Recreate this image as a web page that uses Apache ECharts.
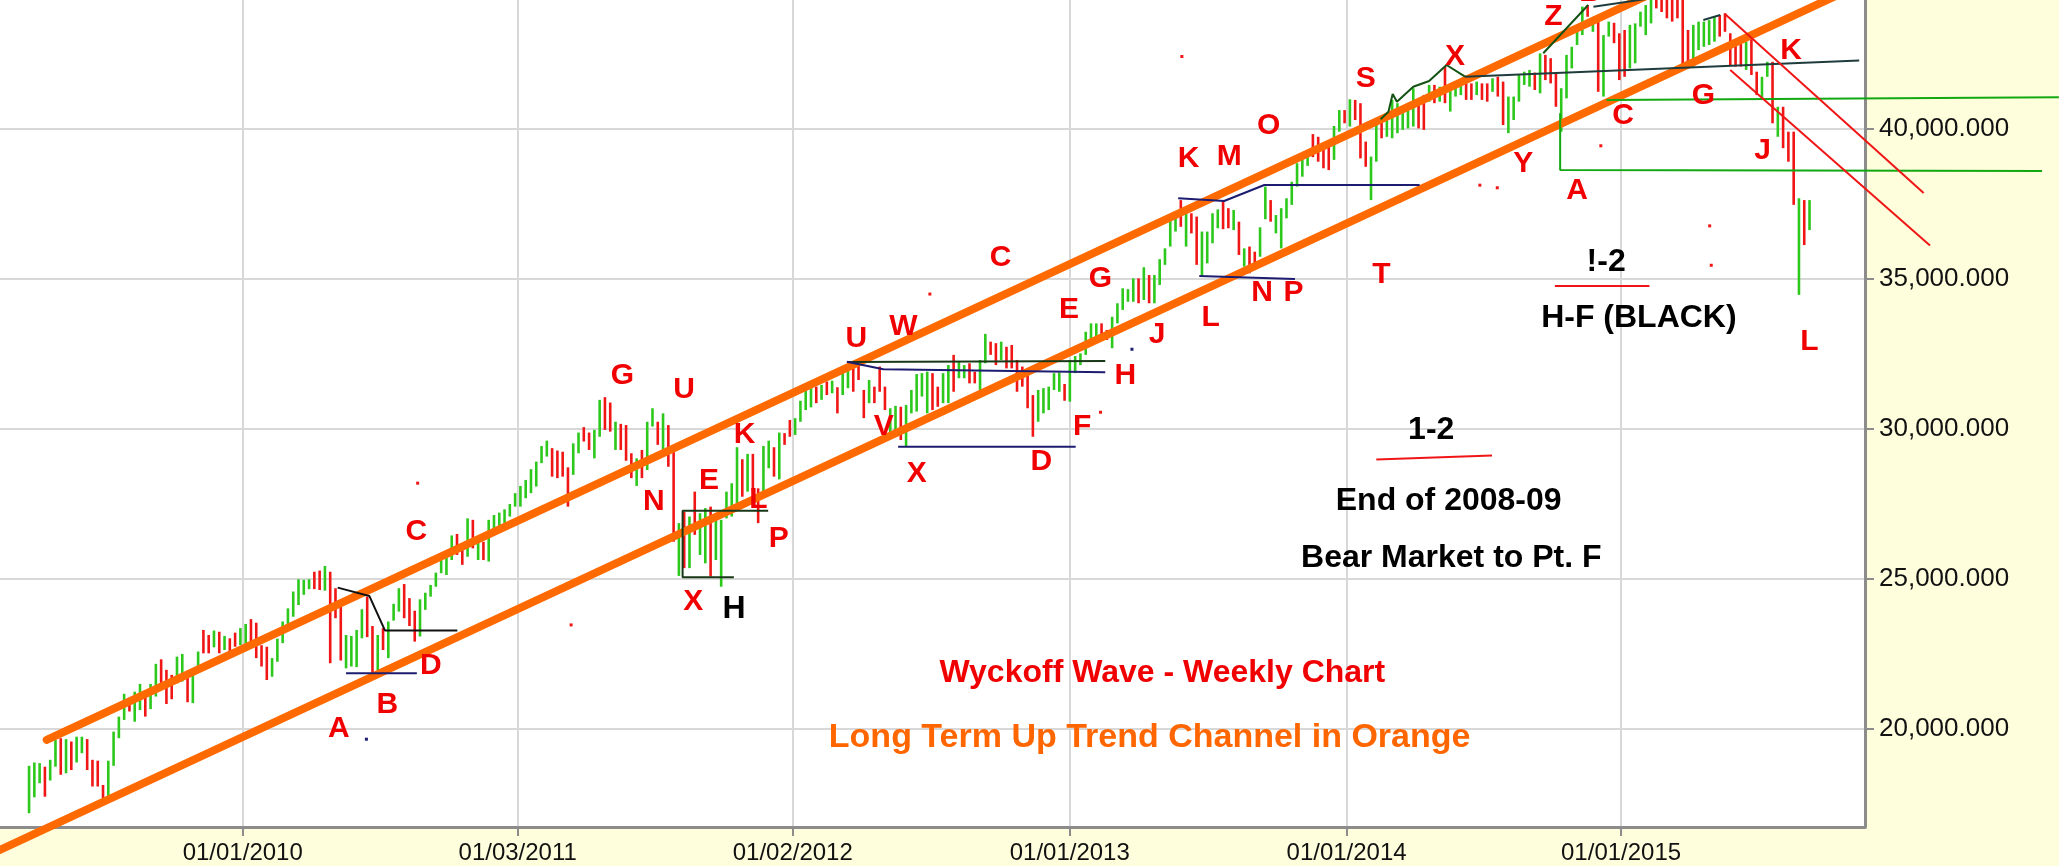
<!DOCTYPE html>
<html>
<head>
<meta charset="utf-8">
<title>Wyckoff Wave - Weekly Chart</title>
<script src="https://cdn.jsdelivr.net/npm/echarts@6/dist/echarts.min.js"></script>
<style>
  html, body { margin: 0; padding: 0; background: #fefedd; }
  #chart { width: 2059px; height: 866px; }
</style>
</head>
<body>
<div id="chart"></div>
<script>
// weekly high/low bars, x = week slot on the time axis (one slot per week)
const firstWeek = 5;
const weekHigh = [
  18770, 18880, 18860, 18740, 18970, 19630, 19690, 19660, 19580, 19740,
  19740, 19660, 18970, 18940, 18130, 18940, 19910, 20410, 21170, 20970,
  21240, 21500, 21190, 21500, 22170, 22320, 21970, 21800, 22410, 22500,
  21910, 21860, 22580, 23300, 23130, 23280, 23240, 23100, 23020, 23210,
  23360, 23500, 23660, 23540, 22790, 22740, 22360, 23010, 23580, 24020,
  24580, 24990, 24970, 24990, 25240, 25280, 25430, 25240, 24690, 24080,
  23130, 23100, 23300, 23990, 24410, 23430, 23130, 23360, 23580, 24170,
  24690, 24830, 24360, 23940, 24320, 24540, 24800, 25210, 25630, 25860,
  26450, 26500, 26080, 27020, 26970, 26360, 26240, 26970, 27130, 27210,
  27320, 27500, 27860, 28100, 28300, 28660, 28910, 29430, 29610, 29360,
  29280, 29240, 28720, 29520, 29880, 30060, 29880, 29970, 30970, 31060,
  30880, 30240, 30170, 30130, 29190, 29020, 29300, 30240, 30690, 30240,
  30520, 30130, 29360, 26860, 27240, 27080, 27910, 27190, 27360, 27410,
  27080, 26970, 27910, 28190, 29390, 28990, 29170, 29170, 28020, 29430,
  29610, 29390, 29880, 29860, 30300, 30360, 30940, 31320, 31500, 31410,
  31470, 31580, 31610, 31390, 31880, 32130, 32190, 32300, 31300, 31630,
  31410, 32080, 31410, 30690, 30770, 30740, 30800, 31300, 31830, 31860,
  31910, 31860, 31410, 31860, 32130, 32470, 32240, 32130, 32190, 31910,
  32300, 33170, 32910, 32860, 32910, 32740, 32800, 32300, 32080, 31860,
  31130, 31300, 31360, 31410, 31860, 31880, 31500, 32300, 32430, 32520,
  33240, 33520, 33520, 33520, 33300, 33740, 34190, 34690, 34660, 35020,
  35020, 35390, 35130, 35130, 35660, 36020, 36970, 37130, 37630, 37210,
  37190, 37080, 36580, 36580, 37190, 37320, 37580, 37360, 37300, 36910,
  36020, 36080, 35910, 36720, 38080, 37630, 37130, 37360, 37690, 38240,
  38860, 39020, 39300, 39830, 39740, 39470, 39410, 40100, 40630, 40630,
  40990, 40970, 40860, 39580, 39080, 40190, 40360, 40520, 40970, 40860,
  40740, 40630, 41360, 40970, 41130, 41470, 41470, 41410, 42080, 41360,
  41470, 41630, 41580, 41520, 41580, 41520, 41520, 41690, 41740, 41580,
  41080, 41080, 41800, 41910, 41970, 41880, 42520, 42470, 42360, 41860,
  41360, 42470, 42740, 43300, 44080, 44130, 43630, 43580, 43130, 43580,
  43540, 43190, 43300, 43470, 43520, 43910, 44130, 44300, 44500, 44600,
  44500, 44400, 44500, 44400, 43300, 43470, 43580, 43580, 43630, 43740,
  43800, 43860, 43190, 42860, 43080, 42910, 43080, 41910, 41740, 42240,
  42240, 40740, 40740, 39910, 39910, 37690, 37630, 37630
];
const weekLow = [
  17190, 17720, 18190, 17740, 18280, 18740, 18470, 18520, 18630, 18880,
  19190, 18630, 18080, 18080, 17690, 17740, 18770, 19690, 20300, 20580,
  20240, 20630, 20410, 20660, 21080, 21410, 20830, 20990, 21520, 21580,
  20890, 20860, 22100, 22520, 22520, 22720, 22520, 22630, 22580, 22740,
  22790, 22830, 22740, 22360, 22080, 21630, 21740, 22240, 22860, 23300,
  23740, 24130, 24470, 24660, 24660, 24630, 24610, 22190, 23690, 22280,
  22020, 22080, 22060, 23020, 23060, 21860, 21940, 22630, 22360, 23610,
  23910, 23690, 23430, 22910, 23080, 23970, 24410, 24740, 25190, 25130,
  25630, 25800, 25470, 25740, 26020, 25630, 25630, 25580, 26520, 26690,
  26860, 27080, 27410, 27410, 27690, 27860, 28080, 28860, 29080, 28410,
  28360, 28410, 27410, 28470, 29190, 29580, 29300, 29020, 29740, 29970,
  29910, 29300, 29300, 28940, 28360, 28100, 28360, 28630, 30080, 29470,
  29080, 28740, 26240, 25100, 25360, 25360, 26470, 25800, 25520, 25080,
  25630, 24740, 27020, 27080, 27300, 27740, 27910, 27910, 26860, 27860,
  28690, 28410, 28320, 29470, 29740, 29800, 30240, 30630, 30720, 30860,
  30970, 31130, 31190, 30520, 31130, 31360, 31240, 31630, 30360, 30860,
  30860, 31240, 30630, 29740, 29740, 29630, 29410, 30520, 30580, 31080,
  30520, 30630, 30740, 30860, 30860, 31240, 31690, 31690, 31520, 31520,
  31300, 32190, 32470, 32130, 32300, 32020, 32020, 31240, 31410, 30690,
  29740, 30240, 30520, 30630, 31300, 31240, 30940, 30910, 31860, 32130,
  32470, 32860, 33020, 32970, 32970, 32690, 33520, 33970, 34240, 34240,
  34190, 34300, 34190, 34190, 34800, 35470, 36080, 36580, 36740, 36080,
  36520, 35470, 35130, 35520, 36190, 36690, 36660, 36690, 36630, 35800,
  35410, 35190, 35320, 35740, 36990, 36910, 36520, 36020, 37020, 37470,
  38080, 38410, 38770, 39060, 38910, 38690, 38630, 38970, 39910, 40190,
  40080, 40300, 39020, 38740, 37630, 38910, 39690, 39740, 39690, 39860,
  39970, 40020, 40080, 40020, 39970, 40910, 40860, 40910, 40860, 40580,
  41080, 41130, 40970, 40970, 41130, 40970, 40910, 41240, 41080, 40130,
  39860, 40300, 40910, 41470, 41410, 41300, 41190, 41630, 41520, 40740,
  39910, 41020, 42020, 42800, 43130, 43740, 43240, 41240, 41080, 43080,
  42860, 41630, 41740, 42020, 42190, 43410, 43130, 43520, 44020, 43900,
  43690, 43580, 43690, 42020, 42020, 42080, 42630, 42740, 42800, 42910,
  43080, 43240, 42130, 42080, 42080, 41970, 41800, 41130, 40970, 41740,
  40190, 39740, 39360, 38910, 37470, 34470, 36130, 36630
];
// 1 = up week (green), 0 = down week (red)
const weekUp = [
  1,1,1,0,1,1,0,1,0,1, 1,0,0,0,0,1,1,1,1,0, 1,1,0,1,1,0,0,0,1,1,
  0,1,1,0,0,1,0,1,0,0, 1,1,0,0,0,0,1,1,1,1, 1,1,1,1,0,0,1,0,0,0,
  1,1,1,1,0,0,1,0,1,1, 1,0,0,0,1,1,1,1,1,1, 1,0,0,1,0,1,0,1,1,1,
  1,1,1,1,1,1,1,1,1,0, 0,0,0,1,1,0,0,1,1,0, 0,1,0,0,0,1,0,1,1,0,
  1,0,0,1,0,1,0,1,1,0, 1,1,1,1,1,0,1,0,0,1, 1,0,1,0,0,1,1,1,1,0,
  1,0,1,0,1,1,0,0,0,1, 0,0,0,1,1,0,1,1,1,1, 1,0,0,1,1,0,1,1,0,0,
  1,1,0,0,1,0,0,0,0,0, 0,1,1,1,1,1,0,1,1,1, 1,1,1,0,0,1,1,1,1,1,
  0,1,0,1,1,1,1,1,0,1, 0,0,1,1,1,1,0,0,1,0, 1,0,0,1,1,0,1,1,1,1,
  1,1,1,0,0,0,0,1,1,0, 1,0,0,0,1,1,0,1,1,1, 1,1,1,0,0,1,0,1,0,1,
  1,1,0,0,1,0,0,1,0,0, 1,1,1,1,1,0,1,0,0,0, 1,1,1,1,1,0,1,0,1,1,
  0,0,0,1,1,1,1,1,0,0, 0,0,0,0,0,1,1,1,1,1, 0,0,0,0,0,1,0,0,1,1,
  0,1,0,0,0,1,0,1
];

// time axis
const xTickPos = [45.44, 97.49, 149.55, 201.98, 254.38, 306.33];
const xTickText = ['01/01/2010', '01/03/2011', '01/02/2012', '01/01/2013', '01/01/2014', '01/01/2015'];
const yTicks = [20000, 25000, 30000, 35000, 40000];
const yMin = 16730;
const yMax = 44300;
const weekSlots = 353;

// long term up trend channel
const channelUpper = [[8.34, 19633], [325.1, 45580]];
const channelLower = [[-7.0, 15433], [359.1, 45430]];

// drawn pattern lines
const blackBD = [[63.42, 24710], [69.40, 24433], [72.38, 23277], [86.06, 23277]];
const navyAB = [[65.0, 21857], [78.4, 21857]];
const boxXH = [[144.9, 27277], [128.7, 27277], [128.7, 25057], [138.4, 25057]];
const darkUH = [[159.8, 32233], [208.7, 32267]];
const navyUH = [[159.8, 32243], [166.7, 31990], [208.7, 31890]];
const navyXD = [[169.5, 29410], [203.1, 29410]];
const navyKM = [[222.5, 37690], [231.2, 37600], [238.8, 38133], [268.2, 38133]];
const navyLP = [[226.5, 35100], [244.6, 35000]];
const darkSX = [[260.8, 40323], [262.3, 40577], [263.1, 41167], [263.9, 40910], [267.0, 41410],
                [270.0, 41600], [273.3, 42133], [276.8, 41743]];
const tealX = [[276.8, 41743], [351.4, 42283]];
const darkZ = [[291.6, 42523], [300.1, 44133]];
const darkZB = [[301.1, 44077], [311.0, 44330]];
const darkG = [[321.9, 43633], [325.1, 43800]];
const greenA = [[294.8, 40523], [294.8, 38633], [386.0, 38600]];
const greenC = [[303.6, 40967], [389.2, 41060]];
const redK1 = [[326.0, 43833], [363.6, 37867]];
const redK2 = [[327.0, 41967], [364.8, 36113]];
const under12 = [[260.0, 28980], [281.9, 29113]];
const underI2 = [[293.8, 34767], [311.7, 34767]];

// stray pen marks
const redDots = [[78.55, 28193], [107.6, 23467], [175.5, 34497], [207.8, 30557], [223.2, 42417],
                 [279.6, 38127], [282.9, 38040], [302.5, 39440], [323.1, 36770], [323.4, 35457]];
const navyDots = [[68.85, 19657], [213.75, 32657]];

// wave point letters and notes
const redMarks = [
  ['A', 63.63, 20007], ['B', 72.83, 20797], ['D', 81.03, 22110], ['C', 78.30, 26573],
  ['G', 117.31, 31783], ['U', 128.99, 31300], ['N', 123.27, 27580], ['E', 133.70, 28280],
  ['K', 140.42, 29813], ['P', 146.90, 26353], ['X', 130.73, 24253], ['L', 143.03, 27633],
  ['U', 161.57, 33007], ['W', 170.50, 33400], ['V', 166.77, 30073], ['C', 188.90, 35720],
  ['X', 173.00, 28500], ['D', 196.60, 28893], ['E', 201.83, 33970], ['G', 207.79, 35020],
  ['F', 204.31, 30073], ['H', 212.50, 31783], ['J', 218.49, 33140], ['K', 224.45, 39003],
  ['M', 232.15, 39090], ['O', 239.61, 40097], ['L', 228.67, 33707], ['N', 238.36, 34540],
  ['P', 244.32, 34540], ['S', 257.99, 41673], ['T', 260.98, 35153], ['X', 274.89, 42417],
  ['Y', 287.82, 38830], ['Z', 293.54, 43730], ['B', 300.47, 44530], ['A', 298.00, 37953],
  ['C', 306.70, 40447], ['G', 321.90, 41103], ['K', 338.50, 42593], ['J', 333.10, 39267],
  ['L', 342.00, 32920]
];
const blackMarks = [
  ['H', 138.43, 23990], ['!-2', 303.5, 35567], ['H-F (BLACK)', 309.7, 33707],
  ['1-2', 270.4, 29943], ['End of 2008-09', 273.7, 27580], ['Bear Market to Pt. F', 274.2, 25697]
];
const titleMarks = [['Wyckoff Wave - Weekly Chart', 219.5, 21847]];
const channelMarks = [['Long Term Up Trend Channel in Orange', 217.1, 19700]];

const UP_COLOR = '#2cc81c';
const DOWN_COLOR = '#f01616';
const FONT = 'Liberation Sans';

const GRID_LEFT = 0, GRID_RIGHT = 194, GRID_TOP = 0, GRID_BOTTOM = 39, WIDTH = 2059;
// second, full-width grid with the same scale, so drawn lines can run past the plot edge
const overlayMax = -0.5 + weekSlots * WIDTH / (WIDTH - GRID_LEFT - GRID_RIGHT);

function fmtY(v) {
  return String(Math.round(v)).replace(/\B(?=(\d{3})+(?!\d))/g, ',') + '.000';
}
function fmtX(v) {
  let best = 0;
  xTickPos.forEach((p, k) => { if (Math.abs(p - v) < Math.abs(xTickPos[best] - v)) best = k; });
  return xTickText[best];
}

function pathSeries(points, color, width, cap) {
  return {
    type: 'line', data: points, symbol: 'none', clip: false, silent: true, z: 4,
    xAxisIndex: 1, yAxisIndex: 1,
    lineStyle: { color: color, width: width, cap: cap || 'butt' }
  };
}
function dotSeries(points, color) {
  return {
    type: 'scatter', data: points, clip: false, silent: true, z: 4,
    xAxisIndex: 1, yAxisIndex: 1, symbol: 'rect', symbolSize: 3,
    itemStyle: { color: color, opacity: 1 }
  };
}
function textSeries(items, color, size) {
  return {
    type: 'scatter', clip: false, silent: true, z: 6, symbolSize: 1,
    xAxisIndex: 1, yAxisIndex: 1,
    itemStyle: { color: 'transparent', opacity: 1 },
    data: items.map(t => ({ name: t[0], value: [t[1], t[2]] })),
    label: {
      show: true, position: 'inside', formatter: '{b}', color: color, opacity: 1,
      fontSize: size, fontWeight: 'bold', fontFamily: FONT
    }
  };
}

const barData = weekHigh.map((h, k) => [firstWeek + k, weekLow[k], h, weekUp[k]]);

const chart = echarts.init(document.getElementById('chart'));
chart.setOption({
  backgroundColor: '#fefedd',
  animation: false,
  grid: [
    {
      left: GRID_LEFT, right: GRID_RIGHT, top: GRID_TOP, bottom: GRID_BOTTOM, show: true,
      backgroundColor: '#ffffff', borderWidth: 0, containLabel: false, outerBoundsMode: 'none'
    },
    {
      left: GRID_LEFT, right: 0, top: GRID_TOP, bottom: GRID_BOTTOM, show: false,
      containLabel: false, outerBoundsMode: 'none'
    }
  ],
  xAxis: [
    {
      type: 'value', gridIndex: 0, min: -0.5, max: weekSlots - 0.5,
      axisLine: { show: true, onZero: false, lineStyle: { color: '#8c8c8c', width: 3 } },
      axisTick: { show: true, length: 9, customValues: xTickPos, lineStyle: { color: '#8c8c8c', width: 2 } },
      axisLabel: {
        customValues: xTickPos, formatter: fmtX, margin: 14,
        fontSize: 24, color: '#111111', fontFamily: FONT
      },
      splitLine: { show: true, lineStyle: { color: '#d8d8d8', width: 2 } }
    },
    { type: 'value', gridIndex: 1, min: -0.5, max: overlayMax, show: false }
  ],
  yAxis: [
    {
      type: 'value', gridIndex: 0, position: 'right', min: yMin, max: yMax,
      axisLine: { show: true, onZero: false, lineStyle: { color: '#8c8c8c', width: 3 } },
      axisTick: { show: true, length: 9, customValues: yTicks, lineStyle: { color: '#8c8c8c', width: 2 } },
      axisLabel: {
        customValues: yTicks, formatter: fmtY, margin: 14,
        fontSize: 26, color: '#111111', fontFamily: FONT
      },
      splitLine: { show: true, lineStyle: { color: '#d8d8d8', width: 2 } }
    },
    { type: 'value', gridIndex: 1, min: yMin, max: yMax, show: false }
  ],
  series: [
    {
      type: 'custom', data: barData, clip: true, silent: true, z: 2,
      xAxisIndex: 0, yAxisIndex: 0,
      encode: { x: 0, y: [1, 2] },
      renderItem: function (params, api) {
        const lo = api.coord([api.value(0), api.value(1)]);
        const hi = api.coord([api.value(0), api.value(2)]);
        return {
          type: 'line',
          shape: { x1: lo[0], y1: lo[1], x2: hi[0], y2: hi[1] },
          style: { stroke: api.value(3) ? UP_COLOR : DOWN_COLOR, lineWidth: 2.6 }
        };
      }
    },
    pathSeries(channelUpper, '#ff6a00', 8, 'round'),
    pathSeries(channelLower, '#ff6a00', 8, 'round'),
    pathSeries(blackBD, '#111111', 2),
    pathSeries(navyAB, '#1c1c70', 2),
    pathSeries(boxXH, '#183818', 2),
    pathSeries(darkUH, '#183818', 2),
    pathSeries(navyUH, '#1c1c70', 2),
    pathSeries(navyXD, '#1c1c70', 2),
    pathSeries(navyKM, '#1c1c70', 2),
    pathSeries(navyLP, '#1c1c70', 2),
    pathSeries(darkSX, '#145214', 2),
    pathSeries(tealX, '#1f3c3c', 2),
    pathSeries(darkZ, '#145214', 2),
    pathSeries(darkZB, '#1f3c3c', 2),
    pathSeries(darkG, '#1f3c3c', 2),
    pathSeries(greenA, '#12a812', 2),
    pathSeries(greenC, '#12a812', 2),
    pathSeries(redK1, '#f01616', 2),
    pathSeries(redK2, '#f01616', 2),
    pathSeries(under12, '#f01616', 2),
    pathSeries(underI2, '#f01616', 2),
    dotSeries(redDots, '#f01616'),
    dotSeries(navyDots, '#1c1c70'),
    textSeries(redMarks, '#f00000', 30),
    textSeries(blackMarks, '#000000', 32),
    textSeries(titleMarks, '#f00000', 32),
    textSeries(channelMarks, '#ff6600', 34)
  ]
});
</script>
</body>
</html>
